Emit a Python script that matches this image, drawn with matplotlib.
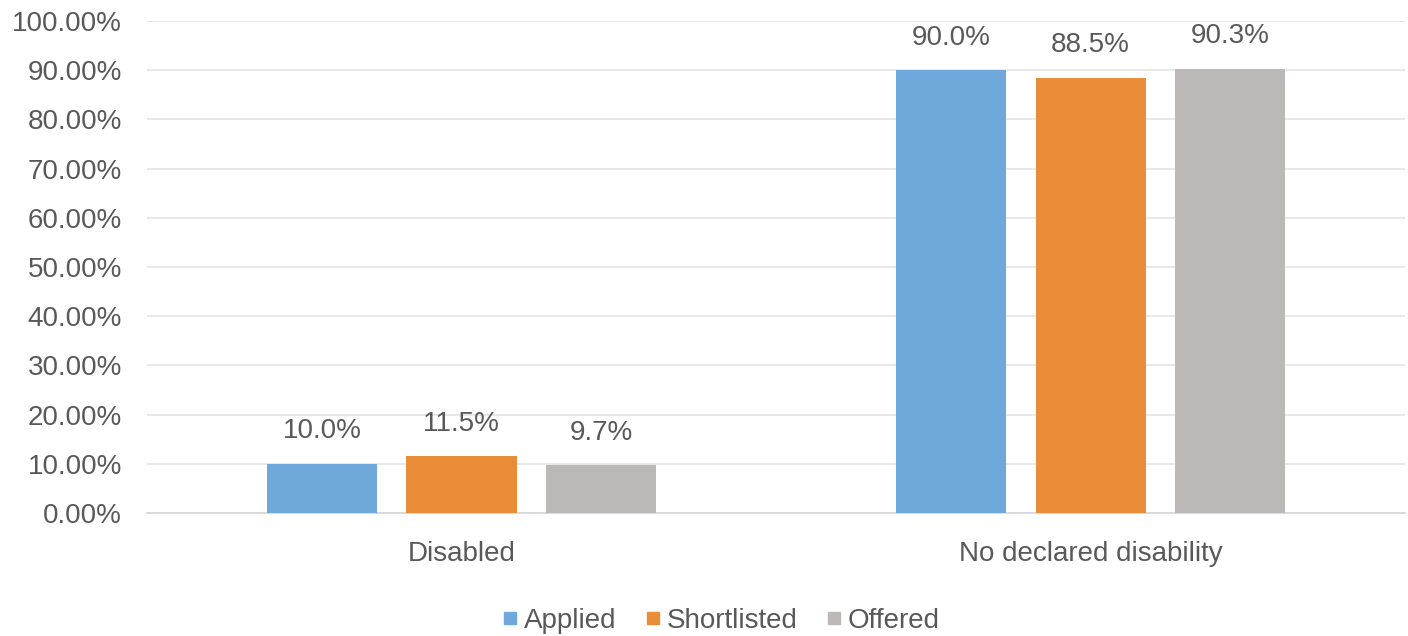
import matplotlib

matplotlib.use("Agg")
import matplotlib.pyplot as plt
import numpy as np
from matplotlib.lines import Line2D
from matplotlib.ticker import FuncFormatter, MultipleLocator

categories = ["Disabled", "No declared disability"]
series = ["Applied", "Shortlisted", "Offered"]
applied = [10.0, 90.0]
shortlisted = [11.5, 88.5]
offered = [9.7, 90.3]

colors = ["#6FA8DA", "#E98D38", "#BCB8B8"]
text_color = "#595959"

plt.rcParams["font.family"] = ["Liberation Sans", "DejaVu Sans"]

fig = plt.figure(figsize=(14.08, 6.36), dpi=100)
ax = fig.add_axes([0.1044, 0.1934, 0.8936, 0.7736])

x = np.arange(len(categories))
width = 0.175
step = 0.222
for i, (name, vals) in enumerate(zip(series, [applied, shortlisted, offered])):
    pos = x + (i - 1) * step
    bars = ax.bar(pos, vals, width=width, color=colors[i], zorder=3, label=name)
    for b, v in zip(bars, vals):
        ax.annotate(
            f"{v:.1f}%",
            (b.get_x() + b.get_width() / 2, v),
            xytext=(0, 14),
            textcoords="offset points",
            ha="center",
            va="bottom",
            fontsize=20,
            color=text_color,
        )

ax.set_xlim(-0.5, 1.5)
ax.set_ylim(0, 100)
ax.yaxis.set_major_locator(MultipleLocator(10))
ax.yaxis.set_major_formatter(FuncFormatter(lambda v, _: f"{v:.2f}%"))
ax.set_xticks(x)
ax.set_xticklabels(categories)
ax.tick_params(axis="both", length=0, labelsize=20, labelcolor=text_color)
ax.tick_params(axis="y", pad=18)
ax.tick_params(axis="x", pad=20)

ax.grid(axis="y", color="#E4E4E4", lw=1.2, zorder=0)
for side in ("top", "right", "left"):
    ax.spines[side].set_visible(False)
ax.spines["bottom"].set_color("#D6D6D6")
ax.spines["bottom"].set_linewidth(1.2)

handles = [
    Line2D([], [], marker="s", ls="", color=c, markersize=8) for c in colors
]
fig.legend(
    handles,
    series,
    loc="center",
    bbox_to_anchor=(0.512, 0.024),
    ncol=3,
    frameon=False,
    fontsize=20,
    labelcolor=text_color,
    handlelength=0.6,
    handletextpad=0.2,
    columnspacing=1.0,
)

fig.savefig("out.png", dpi=100)
